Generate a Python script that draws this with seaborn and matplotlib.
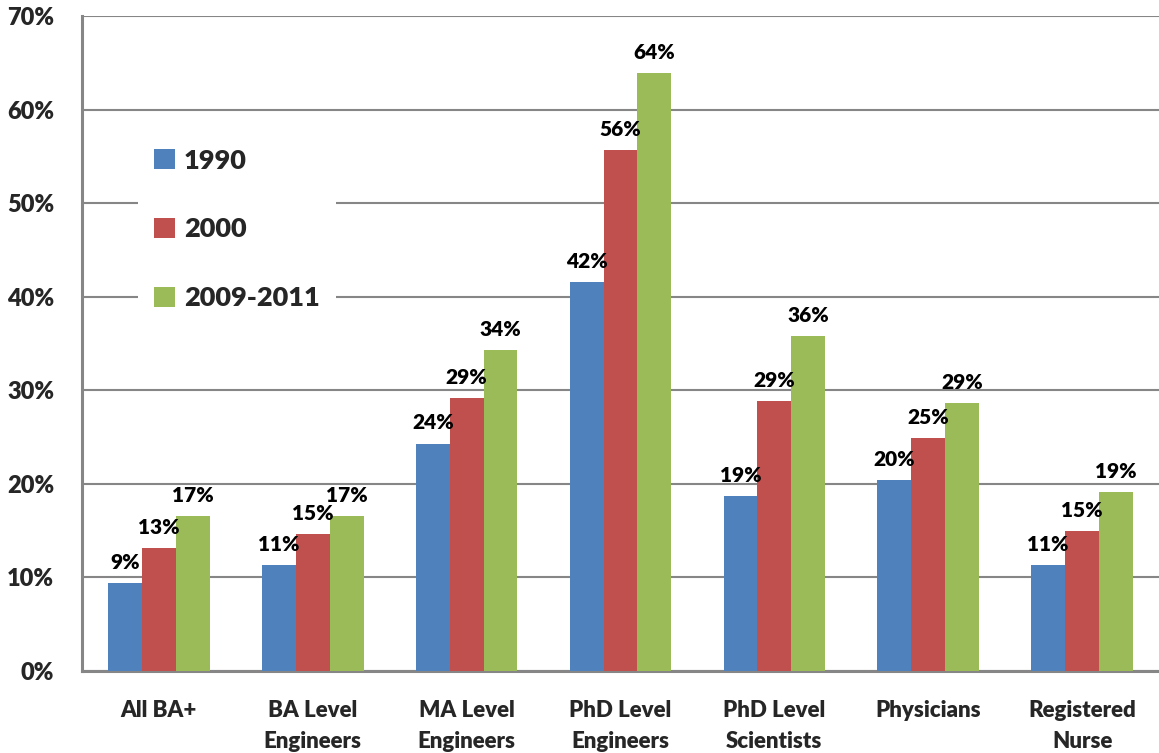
import matplotlib
matplotlib.use("Agg")
import matplotlib.pyplot as plt
import seaborn as sns
import pandas as pd

categories = ["All BA+", "BA Level\nEngineers", "MA Level\nEngineers", "PhD Level\nEngineers",
              "PhD Level\nScientists", "Physicians", "Registered\nNurse"]
series_names = ["1990", "2000", "2009-2011"]
values_1990 = [0.094, 0.113, 0.243, 0.416, 0.187, 0.204, 0.113]
values_2000 = [0.131, 0.146, 0.292, 0.557, 0.288, 0.249, 0.150]
values_2011 = [0.166, 0.166, 0.343, 0.639, 0.358, 0.286, 0.191]
y_ticks = [0.0, 0.1, 0.2, 0.3, 0.4, 0.5, 0.6, 0.7]
colors = ["#4F81BD", "#C0504D", "#9BBB59"]

df = pd.DataFrame({
    "category": categories * 3,
    "period": [s for s in series_names for _ in categories],
    "share": values_1990 + values_2000 + values_2011,
})

sns.set_theme(style="white")
plt.rcParams["font.family"] = ["Lato", "DejaVu Sans"]
plt.rcParams["font.weight"] = "heavy"

fig = plt.figure(figsize=(11.59, 7.53), dpi=100)
ax = fig.add_axes([0.0708, 0.1089, 0.9292, 0.8699])

sns.barplot(data=df, x="category", y="share", hue="period", order=categories,
            hue_order=series_names, palette=colors, width=0.66, gap=0,
            saturation=1, edgecolor="none", linewidth=0, ax=ax, zorder=3)

ax.set_xlim(-0.5, len(categories) - 0.5)
ax.set_ylim(0, 0.7)
ax.set_yticks(y_ticks)
ax.set_yticklabels([f"{t:.0%}" for t in y_ticks], fontsize=17, fontweight="heavy")
ax.set_xticks(range(len(categories)))
ax.set_xticklabels(categories, fontsize=16, fontweight="heavy", linespacing=1.55)
ax.tick_params(axis="x", length=0, pad=21)
ax.tick_params(axis="y", length=0, pad=20)
ax.set_xlabel("")
ax.set_ylabel("")

ax.yaxis.grid(True, color="#868686", linewidth=1.5, zorder=0)
ax.set_axisbelow(True)
for side in ["top", "right"]:
    ax.spines[side].set_visible(False)
for side in ["left", "bottom"]:
    ax.spines[side].set_color("#868686")
    ax.spines[side].set_linewidth(2.2)

# value labels above each bar
for container in ax.containers:
    ax.bar_label(container, labels=[f"{v:.0%}" for v in container.datavalues],
                 padding=8, fontsize=15, fontweight="heavy", color="black")

leg = ax.legend(loc="upper left", bbox_to_anchor=(0.052, 0.822), frameon=True,
                facecolor="white", edgecolor="none", framealpha=1, fancybox=False,
                prop={"size": 19.5, "weight": "heavy"}, handlelength=0.75,
                handleheight=0.75, handletextpad=0.35, labelspacing=1.65,
                borderpad=0.6, borderaxespad=0)
leg.set_zorder(5)

fig.savefig("out.png", dpi=100)
